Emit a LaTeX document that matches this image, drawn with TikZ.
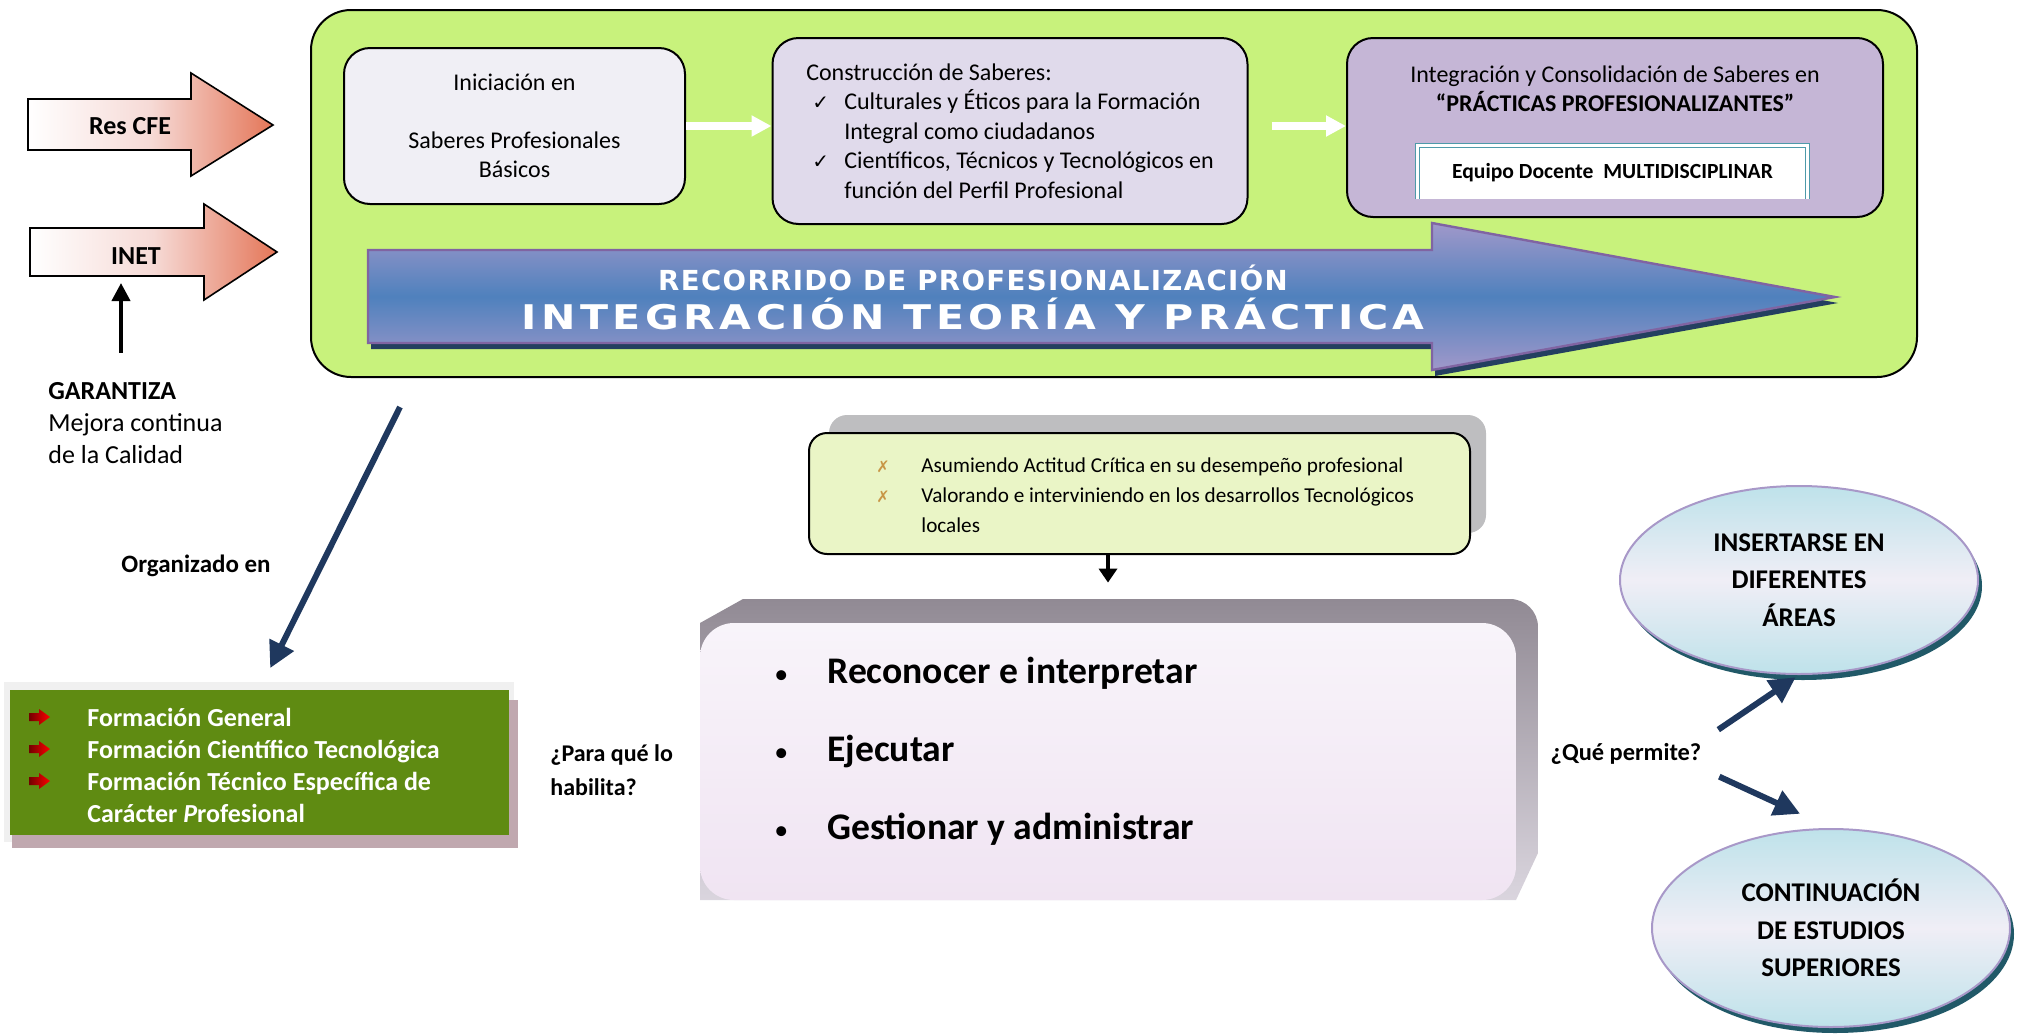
\documentclass[tikz,border=0pt]{standalone}
\usepackage{fontspec}
\setmainfont{Carlito}
\newfontfamily\bandauno[LetterSpace=5]{DejaVu Sans}
\newfontfamily\bandados[LetterSpace=11]{DejaVu Sans}
\newfontfamily\simbolos{DejaVu Sans}
\usepackage{xcolor}
\usetikzlibrary{positioning, shapes.geometric, arrows.meta, shadows}

\definecolor{verdemarco}{RGB}{200,242,124}
\definecolor{grisclaro}{RGB}{240,239,245}
\definecolor{lilaclaro}{RGB}{224,218,235}
\definecolor{lila}{RGB}{197,182,214}
\definecolor{azulbanda}{RGB}{79,129,189}
\definecolor{violetabanda}{RGB}{160,152,202}
\definecolor{bordebanda}{RGB}{128,100,162}
\definecolor{sombrabanda}{RGB}{36,63,96}
\definecolor{naranja}{RGB}{228,118,88}
\definecolor{rosado}{RGB}{246,218,214}
\definecolor{oliva}{RGB}{95,139,18}
\definecolor{malvagris}{RGB}{192,168,175}
\definecolor{crema}{RGB}{234,245,198}
\definecolor{grissombra}{RGB}{190,190,192}
\definecolor{ocre}{RGB}{200,150,70}
\definecolor{naval}{RGB}{31,56,94}
\definecolor{celeste}{RGB}{190,226,234}
\definecolor{blanquecino}{RGB}{240,238,246}
\definecolor{bordeelipse}{RGB}{168,152,200}
\definecolor{petroleo}{RGB}{33,89,104}
\definecolor{turquesa}{RGB}{78,154,170}
\definecolor{carasup}{RGB}{248,244,250}
\definecolor{carainf}{RGB}{240,228,242}
\definecolor{sombraoscura}{RGB}{145,138,148}
\definecolor{sombraclara}{RGB}{218,213,222}

\newcommand{\marcax}{\makebox[22.5pt][l]{\textcolor{ocre}{\simbolos\fontsize{8}{8}\selectfont ✗}}}
\newcommand{\visto}{\makebox[19pt][l]{\hspace{3pt}{\simbolos\fontsize{10}{10}\selectfont ✓}}}
\newcommand{\punto}{\makebox[26.5pt][l]{\mdseries\fontsize{14}{14}\selectfont •}}

\tikzset{
  caja/.style={draw=black, line width=1pt, rounded corners=13pt, inner sep=0pt},
  flechablanca/.style={white, line width=4pt, -{Triangle[length=10pt,width=10pt]}},
  flechanaval/.style={naval, line width=3pt, -{Triangle[length=13pt,width=13pt]}},
  elipse/.style={ellipse, draw=bordeelipse, line width=1pt, top color=celeste,
    bottom color=celeste, middle color=blanquecino,
    drop shadow={shadow xshift=2pt, shadow yshift=-3pt, fill=petroleo, opacity=1},
    font=\bfseries\fontsize{13.5}{18.75}\selectfont, align=center, inner sep=0pt}
}

\begin{document}
\begin{tikzpicture}[x=0.5pt, y=-0.5pt]
  \useasboundingbox (0,0) rectangle (2020,1034);

  % Green frame
  \node[caja, fill=verdemarco, rounded corners=20pt, minimum width=803pt, minimum height=183.5pt] (marco) at (1114,193.5) {};

  % Top boxes
  \node[caja, fill=grisclaro, minimum width=170.5pt, minimum height=78pt, align=center,
    font=\fontsize{12}{14.5}\selectfont] (inic) at (514.5,126)
    {Iniciación en\\[14.5pt]Saberes Profesionales\\Básicos};
  \node[caja, fill=lilaclaro, minimum width=237.5pt, minimum height=93pt, align=left,
    font=\fontsize{12}{14.8}\selectfont] (constr) at (1010,131)
    {Construcción de Saberes:\\
     \visto Culturales y Éticos para la Formación\\
     \hspace*{19pt}Integral como ciudadanos\\
     \visto Científicos, Técnicos y Tecnológicos en\\
     \hspace*{19pt}función del Perfil Profesional};
  \node[caja, fill=lila, minimum width=268pt, minimum height=89.5pt] (integ) at (1615,127.5) {};
  \node[align=center, font=\fontsize{12}{14.5}\selectfont] (integtit) at (1615,89)
    {Integración y Consolidación de Saberes en\\\textbf{“PRÁCTICAS PROFESIONALIZANTES”}};
  \node[fill=white, minimum width=194.5pt, minimum height=26.5pt,
    font=\bfseries\fontsize{10.8}{12}\selectfont] (equipo) at (1612.5,172.5) {Equipo Docente\ \ MULTIDISCIPLINAR};
  \draw[turquesa, double=white, double distance=1.2pt, line width=0.6pt]
    (equipo.south west) -- (equipo.north west) -- (equipo.north east) -- (equipo.south east);

  % Profesionalization band
  \fill[sombrabanda] (371,256) -- (1435,256) -- (1435,229) -- (1838,303) -- (1435,376) -- (1435,349) -- (371,349) -- cycle;
  \draw[bordebanda, line width=1.2pt, top color=violetabanda, bottom color=violetabanda, middle color=azulbanda]
    (368,250) -- (1432,250) -- (1432,223) -- (1835,297) -- (1432,370) -- (1432,343) -- (368,343) -- cycle;
  \node[text=white, font=\bandauno\bfseries\fontsize{13.8}{16}\selectfont] (recorrido) at (973,278) {RECORRIDO DE PROFESIONALIZACIÓN};
  \node[text=white, font=\bandados\bfseries\fontsize{17}{19}\selectfont] (teoria) at (973,314) {\scalebox{1.21}[1]{INTEGRACIÓN TEORÍA Y PRÁCTICA}};

  % Left arrows
  \draw[line width=0.8pt, left color=white, right color=naranja, middle color=rosado]
    (28,99) -- (191,99) -- (191,73) -- (273,125) -- (191,176) -- (191,150) -- (28,150) -- cycle;
  \draw[line width=0.8pt, left color=white, right color=naranja, middle color=rosado]
    (30,228) -- (204,228) -- (204,204) -- (277,252) -- (204,300) -- (204,276) -- (30,276) -- cycle;
  \node[font=\bfseries\fontsize{13}{15}\selectfont] (rescfe) at (130,126) {Res CFE};
  \node[font=\bfseries\fontsize{13}{15}\selectfont] (inet) at (136,256) {INET};

  \node[anchor=west, align=left, inner sep=0pt, font=\fontsize{13}{16}\selectfont] (garant) at (48,423)
    {\textbf{GARANTIZA}\\Mejora continua\\de la Calidad};
  \coordinate (inetpie) at (121,283);

  \node[font=\bfseries\fontsize{12.5}{14}\selectfont] (organiz) at (196,566) {Organizado en};
  \coordinate (orgtop) at (400,407);

  % Green list
  \fill[black!6] (4,682) rectangle (514,842);
  \fill[malvagris] (12,700) rectangle (518,848);
  \node[fill=oliva, minimum width=249.5pt, minimum height=72.5pt, inner sep=0pt] (lista) at (259.5,762.5) {};
  \foreach \yb in {717,749,781} {
    \shade[left color=red!45!black, right color=red] (29,\yb-4) -- (39,\yb-4) -- (39,\yb-8) -- (50,\yb) -- (39,\yb+8) -- (39,\yb+4) -- (29,\yb+4) -- cycle;
  }
  \node[anchor=west, align=left, inner sep=0pt, text=white, font=\bfseries\fontsize{13}{16}\selectfont] (listatxt) at (87,765)
    {Formación General\\Formación Científico Tecnológica\\Formación Técnico Específica de\\Carácter \textit{P}rofesional};

  \node[anchor=west, align=left, inner sep=0pt, font=\bfseries\fontsize{12}{17}\selectfont] (paraque) at (550,770)
    {¿Para qué lo\\habilita?};

  % Attitude box
  \fill[grissombra, rounded corners=9pt] (829,415) rectangle (1486,533);
  \node[caja, fill=crema, rounded corners=9pt, minimum width=330.5pt, minimum height=60.5pt] (actitud) at (1139.5,493.5) {};
  \node[anchor=west, align=left, inner sep=0pt, font=\fontsize{10.6}{15}\selectfont] (actitudtxt) at (876,495)
    {\marcax Asumiendo Actitud Crítica en su desempeño profesional\\
     \marcax Valorando e interviniendo en los desarrollos Tecnológicos\\
     \hspace*{22.5pt}locales};

  % Profile box
  \shade[top color=sombraoscura, bottom color=sombraclara]
    (743,599) -- (1510,599) to[out=0,in=90] (1538,627) -- (1538,853) -- (1516,900) -- (700,900) -- (700,623) -- cycle;
  \node[rounded corners=17pt, top color=carasup, bottom color=carainf, minimum width=408pt, minimum height=138.5pt,
    inner sep=0pt] (perfil) at (1108,761.5) {};
  \node[anchor=west, align=left, inner sep=0pt, font=\bfseries\fontsize{18.8}{39}\selectfont] (perfiltxt) at (774,751.5)
    {\punto Reconocer e interpretar\\
     \punto Ejecutar\\
     \punto Gestionar y administrar};

  \node[font=\bfseries\fontsize{12.2}{14}\selectfont] (permite) at (1626,754) {¿Qué permite?};

  % Ellipses
  \node[elipse, minimum width=179pt, minimum height=94pt] (insertar) at (1799,580) {INSERTARSE EN\\DIFERENTES\\ÁREAS};
  \node[elipse, minimum width=179pt, minimum height=99pt] (continuar) at (1831,928) {CONTINUACIÓN\\DE ESTUDIOS\\SUPERIORES};

  % Connectors
  \draw[flechablanca] (inic.east) -- (inic.east -| constr.west);
  \draw[flechablanca, shorten <=11.5pt] (constr.east |- inic.east) -- (inic.east -| integ.west);
  \draw[line width=2pt, -{Triangle[length=9pt,width=9pt]}, shorten <=14.5pt] (garant.north -| inetpie) -- (inetpie);
  \draw[flechanaval, shorten >=12pt] (orgtop) -- (lista.north);
  \draw[line width=2pt, -{Triangle[length=7pt,width=9pt]}, shorten >=20pt] (actitud.south -| perfil.north) -- (perfil.north);
  \draw[flechanaval, shorten <=6pt, shorten >=2pt] (permite.north east) -- (insertar.south);
  \draw[flechanaval, shorten <=6pt, shorten >=17pt] (permite.south east) -- (continuar.north);
\end{tikzpicture}
\end{document}
